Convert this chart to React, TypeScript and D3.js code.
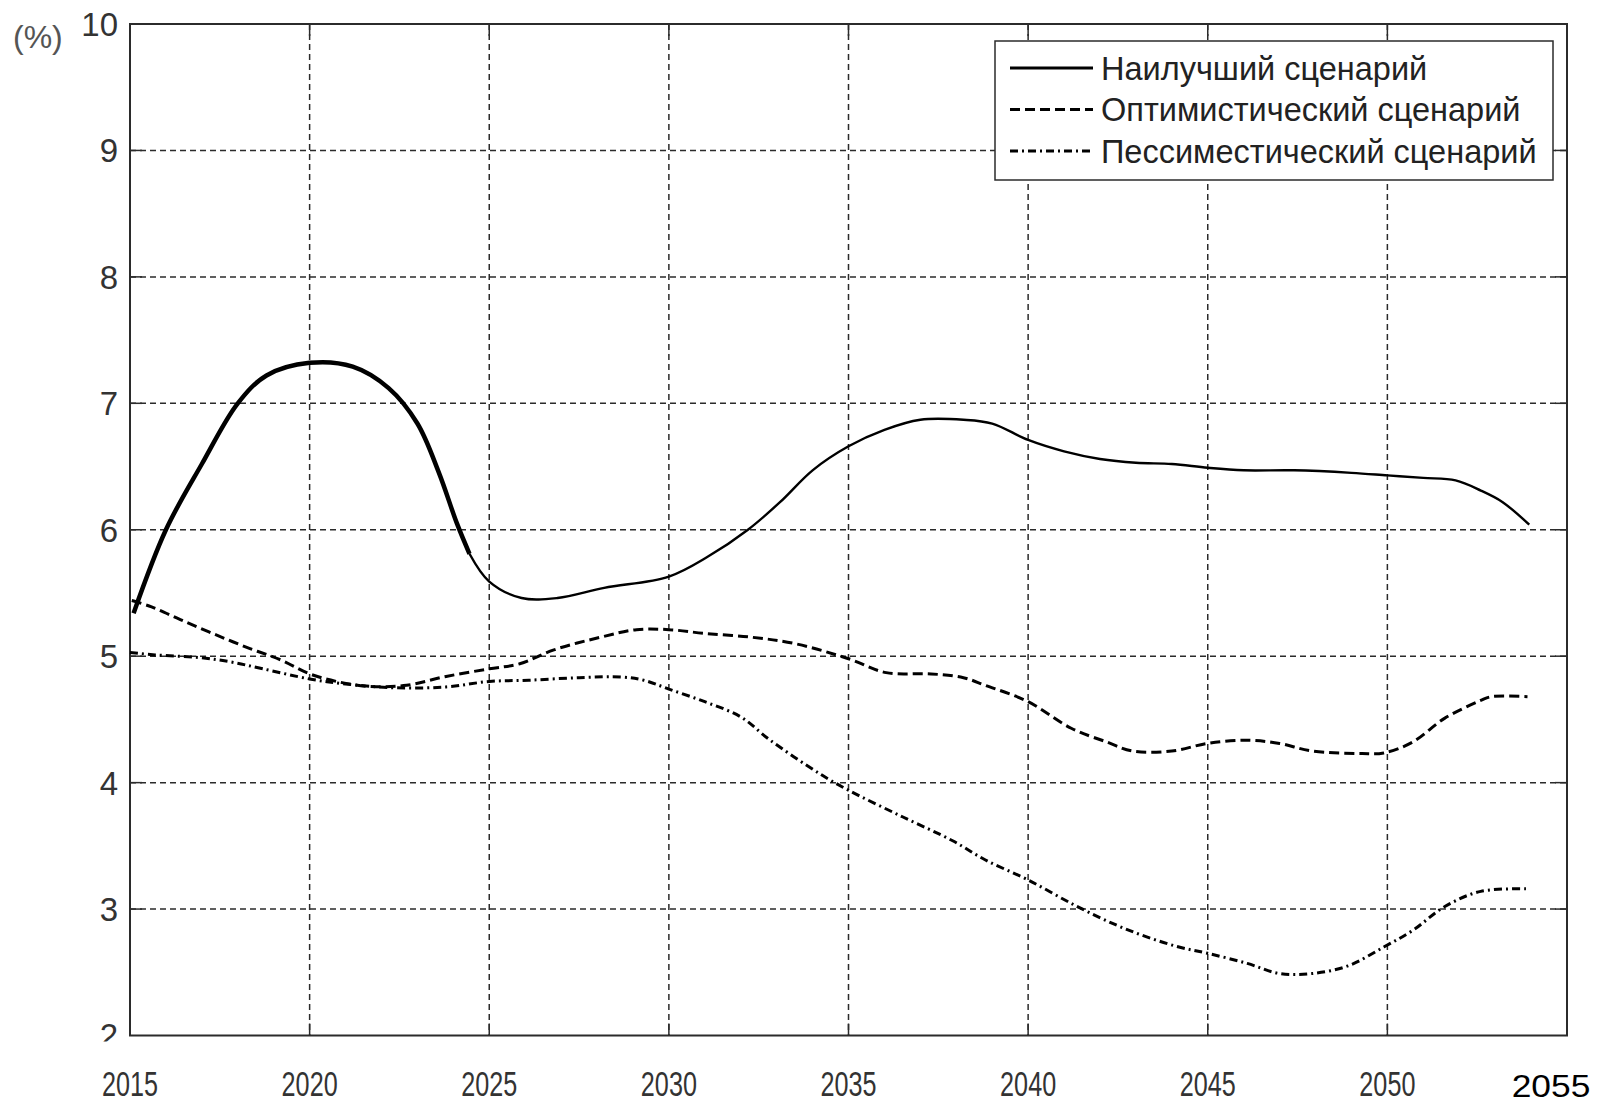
import { useEffect, useRef } from "react"
import * as d3 from "d3"

// axis ticks
const yearTicks = [2015, 2020, 2025, 2030, 2035, 2040, 2045, 2050]
const lastYearLabel = "2055"
const valueTicks = [2, 3, 4, 5, 6, 7, 8, 9, 10]
const unitLabel = "(%)"

const seriesNames = ["Наилучший сценарий", "Оптимистический сценарий", "Пессиместический сценарий"]

// Наилучший сценарий (solid; drawn bolder up to ~2024.45)
const bestYears = [
  2015.1, 2016, 2017, 2018, 2018.8, 2020, 2021.2, 2022.2, 2023, 2023.6, 2024.1, 2024.45, 2025, 2025.9, 2026.9,
  2028.2, 2030, 2031.1, 2032.2, 2033.1, 2034, 2035, 2036, 2037, 2038.2, 2039, 2040, 2041, 2042, 2043, 2044, 2045,
  2046, 2047.4, 2049, 2050, 2051, 2051.9, 2052.6, 2053.2, 2053.95,
]
const bestValues = [
  5.34, 6.0, 6.52, 7.0, 7.22, 7.32, 7.29, 7.12, 6.84, 6.45, 6.05, 5.81, 5.59, 5.46, 5.46, 5.54, 5.63, 5.79, 6.0,
  6.22, 6.47, 6.66, 6.79, 6.87, 6.87, 6.84, 6.71, 6.62, 6.56, 6.53, 6.52, 6.49, 6.47, 6.47, 6.45, 6.43, 6.41, 6.39,
  6.31, 6.22, 6.04,
]
const bestBoldUntil = 2024.45

// Оптимистический сценарий (dashed)
const optYears = [
  2015.05, 2015.6, 2016.4, 2017.3, 2018.25, 2019.2, 2020, 2020.75, 2021.7, 2022.7, 2023.8, 2025, 2025.85, 2026.8,
  2028.1, 2029.1, 2030, 2031, 2032.3, 2033.5, 2035, 2036.05, 2037.3, 2038.2, 2038.8, 2040, 2041.2, 2042.2, 2042.9,
  2044, 2045, 2046.1, 2047, 2047.9, 2049.3, 2049.9, 2050.7, 2051.6, 2052.6, 2052.9, 2053.9,
]
const optValues = [
  5.44, 5.39, 5.29, 5.18, 5.07, 4.97, 4.86, 4.8, 4.76, 4.77, 4.84, 4.9, 4.94, 5.05, 5.15, 5.21, 5.21, 5.18, 5.15,
  5.1, 4.98, 4.87, 4.86, 4.83, 4.77, 4.64, 4.43, 4.32, 4.25, 4.25, 4.31, 4.335, 4.31, 4.25, 4.23, 4.235, 4.32, 4.51,
  4.65, 4.68, 4.68,
]

// Пессиместический сценарий (dash-dot)
const pesYears = [
  2015, 2015.7, 2016.9, 2017.8, 2018.7, 2020, 2021, 2022.4, 2023.8, 2025, 2026.1, 2027.5, 2028.7, 2029.3, 2030,
  2031, 2032, 2032.8, 2034.2, 2035, 2036.5, 2037.9, 2038.8, 2040, 2041.3, 2042.4, 2043.3, 2044.2, 2045, 2046.1,
  2047, 2047.9, 2048.9, 2049.9, 2050.7, 2051.6, 2052.6, 2053.9,
]
const pesValues = [
  5.03, 5.01, 4.99, 4.955, 4.9, 4.82, 4.78, 4.75, 4.757, 4.8, 4.81, 4.83, 4.835, 4.81, 4.74, 4.64, 4.52, 4.34, 4.07,
  3.94, 3.73, 3.54, 3.39, 3.23, 3.03, 2.88, 2.78, 2.7, 2.65, 2.57, 2.49, 2.49, 2.55, 2.7, 2.83, 3.02, 3.14, 3.16,
]

type Pt = [number, number]

const zip = (xs: number[], ys: number[]): Pt[] => xs.map((v, i) => [v, ys[i]])

export default function App() {
  const svgRef = useRef<SVGSVGElement>(null)

  useEffect(() => {
    if (!svgRef.current) return

    const width = 1599
    const height = 1104
    const margin = { top: 24, right: 32, bottom: 68.5, left: 130 }
    const innerWidth = width - margin.left - margin.right
    const innerHeight = height - margin.top - margin.bottom
    const ink = "#2b2b2b"
    const font = "'Liberation Sans', Arial, sans-serif"

    d3.select(svgRef.current).selectAll("*").remove()

    const root = d3.select(svgRef.current).attr("width", width).attr("height", height)
    root.append("rect").attr("width", width).attr("height", height).attr("fill", "#fff")

    const svg = root.append("g").attr("transform", `translate(${margin.left},${margin.top})`)

    const x = d3.scaleLinear().domain([2015, 2055]).range([0, innerWidth])
    const y = d3.scaleLinear().domain([2, 10]).range([innerHeight, 0])

    const innerYears = yearTicks.filter((d) => d > 2015)
    const innerValues = valueTicks.filter((d) => d > 2 && d < 10)

    // grid
    const grid = svg.append("g").attr("stroke", ink).attr("stroke-width", 1.5).attr("stroke-dasharray", "6,4")
    grid
      .selectAll("line.v")
      .data(innerYears)
      .join("line")
      .attr("x1", (d) => x(d))
      .attr("x2", (d) => x(d))
      .attr("y1", 0)
      .attr("y2", innerHeight)
    grid
      .selectAll("line.h")
      .data(innerValues)
      .join("line")
      .attr("y1", (d) => y(d))
      .attr("y2", (d) => y(d))
      .attr("x1", 0)
      .attr("x2", innerWidth)

    // inner ticks on all four sides
    const tickLen = 12
    const ticks = svg.append("g").attr("stroke", ink).attr("stroke-width", 1.5)
    innerYears.forEach((d) => {
      ticks.append("line").attr("x1", x(d)).attr("x2", x(d)).attr("y1", innerHeight).attr("y2", innerHeight - tickLen)
      ticks.append("line").attr("x1", x(d)).attr("x2", x(d)).attr("y1", 0).attr("y2", tickLen)
    })
    innerValues.forEach((d) => {
      ticks.append("line").attr("y1", y(d)).attr("y2", y(d)).attr("x1", 0).attr("x2", tickLen)
      ticks.append("line").attr("y1", y(d)).attr("y2", y(d)).attr("x1", innerWidth).attr("x2", innerWidth - tickLen)
    })

    // frame
    svg
      .append("rect")
      .attr("width", innerWidth)
      .attr("height", innerHeight)
      .attr("fill", "none")
      .attr("stroke", ink)
      .attr("stroke-width", 2)

    // series
    const line = d3
      .line<Pt>()
      .x((d) => x(d[0]))
      .y((d) => y(d[1]))
      .curve(d3.curveCatmullRom.alpha(0.5))

    const best = zip(bestYears, bestValues)
    const styles = [
      { dash: null as string | null, w: 3 },
      { dash: "10,5", w: 3 },
      { dash: "8,4,2,4", w: 3 },
    ]

    svg
      .append("path")
      .datum(best.filter((d) => d[0] >= bestBoldUntil))
      .attr("fill", "none")
      .attr("stroke", "#000")
      .attr("stroke-width", 2.4)
      .attr("d", line)
    svg
      .append("path")
      .datum(best.filter((d) => d[0] <= bestBoldUntil))
      .attr("fill", "none")
      .attr("stroke", "#000")
      .attr("stroke-width", 4.5)
      .attr("d", line)

    svg
      .append("path")
      .datum(zip(optYears, optValues))
      .attr("fill", "none")
      .attr("stroke", "#000")
      .attr("stroke-width", styles[1].w)
      .attr("stroke-dasharray", styles[1].dash)
      .attr("d", line)

    svg
      .append("path")
      .datum(zip(pesYears, pesValues))
      .attr("fill", "none")
      .attr("stroke", "#000")
      .attr("stroke-width", styles[2].w)
      .attr("stroke-dasharray", styles[2].dash)
      .attr("d", line)

    // y labels (the bottom "2" is cut off in the original)
    root
      .append("defs")
      .append("clipPath")
      .attr("id", "ylab-clip")
      .append("rect")
      .attr("x", 0)
      .attr("y", 0)
      .attr("width", margin.left)
      .attr("height", margin.top + innerHeight + 6)
    root
      .append("g")
      .attr("clip-path", "url(#ylab-clip)")
      .selectAll("text")
      .data(valueTicks)
      .join("text")
      .attr("x", margin.left - 12)
      .attr("y", (d) => margin.top + y(d))
      .attr("dy", "0.36em")
      .attr("text-anchor", "end")
      .attr("font-family", font)
      .attr("font-size", 33)
      .attr("fill", "#333")
      .text((d) => d)

    root
      .append("text")
      .attr("x", 13)
      .attr("y", 48)
      .attr("font-family", font)
      .attr("font-size", 32)
      .attr("fill", "#555")
      .text(unitLabel)

    // x labels (narrow face)
    root
      .append("g")
      .selectAll("text")
      .data(yearTicks)
      .join("text")
      .attr("transform", (d) => `translate(${margin.left + x(d)},1096) scale(0.7,1)`)
      .attr("text-anchor", "middle")
      .attr("font-family", font)
      .attr("font-size", 36)
      .attr("fill", "#333")
      .text((d) => d)

    root
      .append("text")
      .attr("transform", "translate(1551,1097) scale(1.14,1)")
      .attr("text-anchor", "middle")
      .attr("font-family", font)
      .attr("font-size", 31)
      .attr("fill", "#000")
      .text(lastYearLabel)

    // legend
    const lg = root.append("g").attr("transform", "translate(995,41)")
    lg.append("rect")
      .attr("width", 558)
      .attr("height", 139)
      .attr("fill", "#fff")
      .attr("stroke", ink)
      .attr("stroke-width", 1.5)
    const rows = lg
      .selectAll("g.row")
      .data(seriesNames)
      .join("g")
      .attr("transform", (_, i) => `translate(0,${27 + i * 41.5})`)
    rows
      .append("line")
      .attr("x1", 15)
      .attr("x2", 98)
      .attr("stroke", "#000")
      .attr("stroke-width", (_, i) => styles[i].w)
      .attr("stroke-dasharray", (_, i) => styles[i].dash)
    rows
      .append("text")
      .attr("x", 106)
      .attr("dy", "0.36em")
      .attr("font-family", font)
      .attr("font-size", 32.5)
      .attr("fill", "#222")
      .text((d) => d)
  }, [])

  return (
    <div style={{ position: "absolute", left: 0, top: 0 }}>
      <svg ref={svgRef} style={{ display: "block" }} />
    </div>
  )
}
